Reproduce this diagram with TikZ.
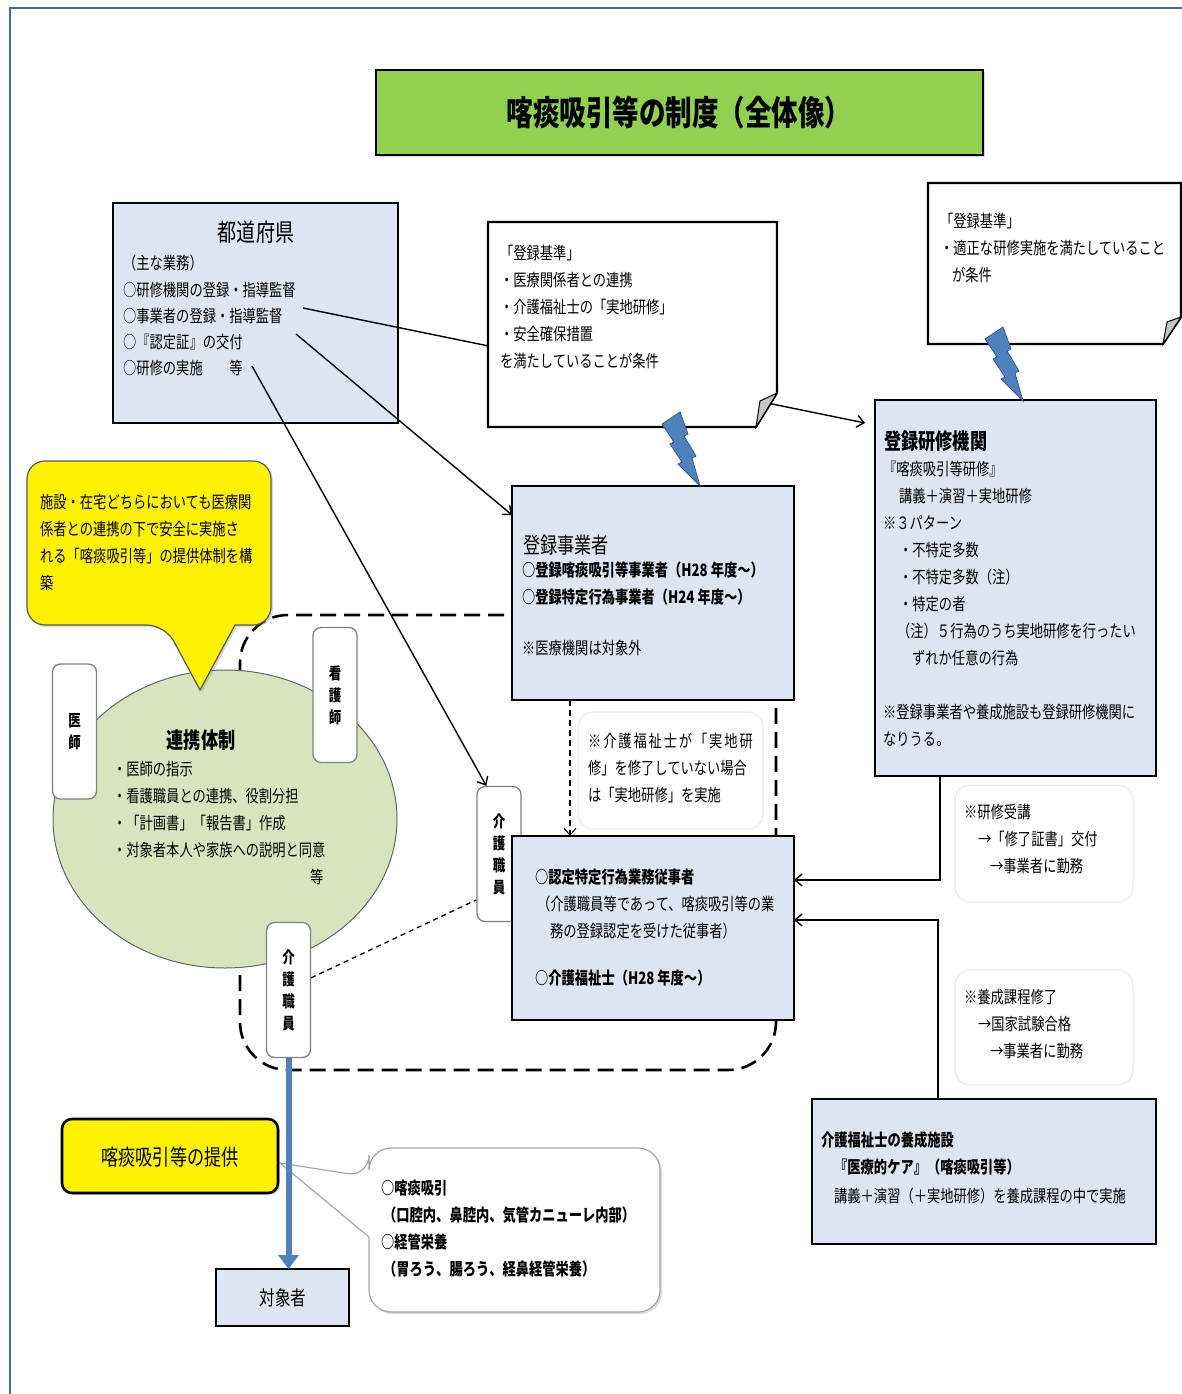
\documentclass[tikz,border=0pt]{standalone}
\usepackage{fontspec}
\newfontfamily\jp[FakeStretch=0.78]{Noto Sans CJK JP}
\usepackage{tikz}
\usetikzlibrary{arrows.meta,shadows}
\definecolor{paleblue}{HTML}{DCE6F2}
\definecolor{grassgreen}{HTML}{92D050}
\definecolor{sage}{HTML}{D7E4BD}
\definecolor{boltblue}{HTML}{4F81BD}
\definecolor{boltedge}{HTML}{385D8A}
\definecolor{framecol}{HTML}{4A6B9A}
\newcommand{\jpfont}[2][27]{\jp\fontsize{#2}{#1}\selectfont}

\begin{document}
\begin{tikzpicture}[x=1pt,y=-1pt,>={Straight Barb[length=7pt,width=12pt]},
  box/.style={draw,line width=2.6pt,fill=paleblue,anchor=north west,inner sep=0pt,outer sep=0pt},
  txt/.style={anchor=north west,inner sep=0pt,align=left,font=\jpfont{17}},
  head/.style={inner sep=0pt,font=\jpfont{22}},
  staff/.style={draw=gray,line width=1.3pt,rounded corners=8pt,fill=white,minimum width=44pt,minimum height=135pt,inner sep=0pt,align=center,font={\jpfont[22]{16}\bfseries}},
  memo/.style={draw=gray!20,line width=1pt,rounded corners=15pt,fill=white},
  sheet/.style={draw,line width=2.2pt,fill=white},
  fold/.style={draw,line width=1pt,fill=gray!45},
  link/.style={line width=1.4pt},
  soft/.style={drop shadow={opacity=0.3,shadow xshift=2pt,shadow yshift=-2pt}},
  zap/.pic={\filldraw[fill=boltblue,draw=boltedge,line width=0.8pt] (0,12) -- (18,0) -- (26,22) -- (22,24) -- (34,44) -- (30,46) -- (38,74) -- (16,52) -- (20,50) -- (8,32) -- (12,30) -- cycle;}]
  \useasboundingbox (0,0) rectangle (1182,1394);
  \draw[framecol,line width=1.5pt] (10,1394) -- (10,8) -- (1182,8);
  % title
  \node[box,fill=grassgreen,minimum width=607pt,minimum height=85pt,soft] (title) at (376,70) {};
  \node[head,font=\jpfont{34}\bfseries] (titletxt) at (679,113) {喀痰吸引等の制度（全体像）};
  % dashed region round the care team
  \draw[line width=2.6pt,dash pattern=on 16pt off 8pt,rounded corners=48pt] (240,615) rectangle (776,1070);
  % care team
  \filldraw[fill=sage,draw=gray!80!black,line width=1pt] (225,819) ellipse [x radius=172pt,y radius=149pt];
  \node[head,font=\jpfont{22}\bfseries] (renkeihead) at (201,740) {連携体制};
  \node[txt] (renkeitxt) at (113,761) {・医師の指示\\・看護職員との連携、役割分担\\・「計画書」「報告書」作成\\・対象者本人や家族への説明と同意\\\hspace*{197pt}等};
  \draw[fill=yellow,draw=gray!70!black,line width=1.2pt,soft] (200,690) -- (235,625) [rounded corners=18pt] -- (271,625) -- (271,461) -- (27,461) -- (27,625) -- (165,625) [sharp corners] -- cycle;
  \node[txt] (calltxt) at (40,494) {施設・在宅どちらにおいても医療関\\係者との連携の下で安全に実施さ\\れる「喀痰吸引等」の提供体制を構\\築};
  \node[staff] (ishi) at (74.5,731.5) {医\\師};
  \node[staff] (kango) at (335,695) {看\\護\\師};
  \node[staff] (kaigoR) at (499,854) {介\\護\\職\\員};
  \node[staff] (kaigoL) at (288.5,990) {介\\護\\職\\員};
  % prefecture
  \node[box,minimum width=285pt,minimum height=220pt] (pref) at (113,203) {};
  \node[head,font=\jpfont{24.5}] (prefhead) at (256,232) {都道府県};
  \node[txt,font={\jpfont[26.3]{17}}] (preftxt) at (123,255) {（主な業務）\\○研修機関の登録・指導監督\\○事業者の登録・指導監督\\○『認定証』の交付\\○研修の実施　　等};
  \coordinate (prefA) at (303,308);
  \coordinate (prefB) at (296,334);
  \coordinate (prefC) at (252,366);
  % registered bodies
  \node[box,minimum width=282pt,minimum height=214pt] (jigyo) at (512,486) {};
  \node[head,anchor=west] (jigyohead) at (523,545) {登録事業者};
  \node[txt,font=\jpfont{17}\bfseries] (jigyotxt) at (522,562) {○登録喀痰吸引等事業者（H28 年度～）\\○登録特定行為事業者（H24 年度～）};
  \node[txt] (jigyonote) at (522,640) {※医療機関は対象外};
  \node[box,minimum width=281pt,minimum height=376pt] (kensyu) at (875,400) {};
  \node[head,anchor=west,font=\jpfont{22}\bfseries] (kenhead) at (884,441) {登録研修機関};
  \node[txt] (kentxt) at (883,461) {『喀痰吸引等研修』\\\hspace*{16pt}講義＋演習＋実地研修\\※３パターン\\\hspace*{16pt}・不特定多数\\\hspace*{16pt}・不特定多数（注）\\\hspace*{16pt}・特定の者\\\hspace*{14pt}（注）５行為のうち実地研修を行ったい\\\hspace*{29pt}ずれか任意の行為\\[27pt]※登録事業者や養成施設も登録研修機関に\\なりうる。};
  \node[box,minimum width=282pt,minimum height=184pt] (jujisha) at (512,836) {};
  \node[txt,font=\jpfont{17}\bfseries] (jujiA) at (535,869) {○認定特定行為業務従事者};
  \node[txt] (jujiB) at (537,896) {（介護職員等であって、喀痰吸引等の業\\\hspace*{13pt}務の登録認定を受けた従事者）};
  \node[txt,font=\jpfont{17}\bfseries] (jujiC) at (535,970) {○介護福祉士（H28 年度～）};
  \node[box,minimum width=344pt,minimum height=145pt] (yosei) at (812,1099) {};
  \node[txt,font=\jpfont{17}\bfseries] (yoseiA) at (821,1131) {介護福祉士の養成施設\\\hspace*{13pt}『医療的ケア』（喀痰吸引等）};
  \node[txt] (yoseiB) at (834,1188) {講義＋演習（＋実地研修）を養成課程の中で実施};
  % notes
  \draw[memo] (578,712) rectangle (763,829);
  \node[txt] (memoAtxt) at (588,733) {{\addfontfeature{LetterSpace=11}※介護福祉士が「実地研}\\修」を修了していない場合\\は「実地研修」を実施};
  \draw[memo] (955,785) rectangle (1133,902);
  \node[txt] (memoBtxt) at (964,804) {※研修受講\\\hspace*{14pt}→「修了証書」交付\\\hspace*{26pt}→事業者に勤務};
  \draw[memo] (955,970) rectangle (1133,1085);
  \node[txt] (memoCtxt) at (964,989) {※養成課程修了\\\hspace*{14pt}→国家試験合格\\\hspace*{26pt}→事業者に勤務};
  % links from the prefecture
  \draw[link,->] (prefA) -- ([xshift=-10pt,yshift=-23pt]kensyu.north west);
  \draw[link,->] (prefB) -- ([yshift=-29pt]jigyo.north west);
  \draw[link,->] (prefC) -- ([xshift=10pt]kaigoR.north west);
  % registration standards
  \draw[sheet] (488,222) -- (777,222) -- (777,393) -- (756,427) -- (488,427) -- cycle;
  \draw[fold] (756,427) -- (760,401) -- (777,393) -- cycle;
  \node[txt] (stdA) at (500,245) {「登録基準」\\・医療関係者との連携\\・介護福祉士の「実地研修」\\・安全確保措置\\を満たしていることが条件};
  \draw[sheet] (928,183) -- (1181,183) -- (1181,317) -- (1163,344) -- (928,344) -- cycle;
  \draw[fold] (1163,344) -- (1167,322) -- (1181,317) -- cycle;
  \node[txt] (stdB) at (940,213) {「登録基準」\\・適正な研修実施を満たしていること\\\hspace*{12pt}が条件};
  \pic at (662,412) {zap};
  \pic at (985,327) {zap};
  % routes to the certified worker
  \draw[link,->] ([xshift=65pt]kensyu.south west) |- ([yshift=-44pt]jujisha.north east);
  \draw[link,->] ([xshift=126pt]yosei.north west) |- ([yshift=-84pt]jujisha.north east);
  \draw[->,line width=1.1pt,dash pattern=on 6pt off 4pt] ([xshift=58pt]jigyo.south west) -- ([xshift=58pt]jujisha.north west);
  \draw[line width=1.3pt,dash pattern=on 5pt off 4pt] ([yshift=-56pt]kaigoL.north east) -- ([yshift=-114pt]kaigoR.north west);
  % provision to the person
  \draw[fill=white,draw=gray!70,line width=1.2pt,soft] (280,1163) -- (369,1237) [rounded corners=22pt] -- (369,1312) -- (660,1312) -- (660,1148) -- (369,1148) -- (369,1177) [sharp corners] -- cycle;
  \node[txt,font=\jpfont{17}\bfseries] (careA) at (381,1180) {○喀痰吸引\\\hspace*{2pt}（口腔内、鼻腔内、気管カニューレ内部）\\○経管栄養\\\hspace*{2pt}（胃ろう、腸ろう、経鼻経管栄養）};
  \node[box,fill=yellow,rounded corners=10pt,minimum width=216pt,minimum height=74pt,soft] (teikyo) at (62,1119) {};
  \node[head] (teikyotxt) at (170,1157) {喀痰吸引等の提供};
  \node[box,minimum width=133pt,minimum height=57pt] (taisho) at (216,1269) {};
  \node[head,font=\jpfont{20}] (taishotxt) at (283,1298) {対象者};
  \draw[line width=6pt,boltblue,-{Triangle[length=14pt,width=20pt]}] (kaigoL.south) -- (kaigoL.south |- taisho.north);
\end{tikzpicture}
\end{document}
